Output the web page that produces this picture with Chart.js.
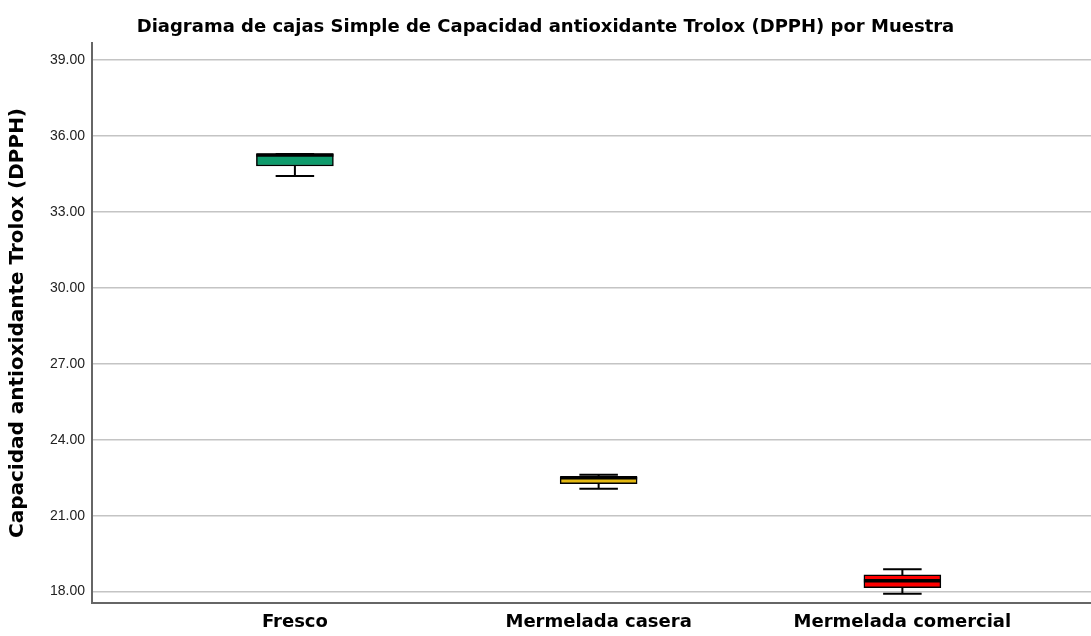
<!DOCTYPE html>
<html>
<head>
    <title>Diagrama de cajas</title>
    <script src="https://cdn.jsdelivr.net/npm/chart.js"></script>
    <style>
        body { margin: 0; background: #fff; }
        canvas { display: block; }
    </style>
</head>
<body>
<canvas id="boxChart" width="1091" height="636"></canvas>

<script>
    const categories = ['Fresco', 'Mermelada casera', 'Mermelada comercial'];
    const whiskerLow = [34.42, 22.06, 17.92];
    const q1 = [34.81, 22.26, 18.16];
    const medians = [35.25, 22.50, 18.43];
    const q3 = [35.29, 22.52, 18.66];
    const whiskerHigh = [35.29, 22.62, 18.88];
    const boxColors = ['#0f9b6c', '#e3b812', '#ff0000'];
    const yTicks = [18, 21, 24, 27, 30, 33, 36, 39];

    // whiskers, caps and median lines drawn on top of the floating bars
    const boxPlugin = {
        id: 'boxParts',
        afterDatasetsDraw(chart) {
            const ctx = chart.ctx;
            const y = chart.scales.y;
            const meta = chart.getDatasetMeta(0);
            ctx.save();
            ctx.strokeStyle = '#000';
            meta.data.forEach((bar, i) => {
                const cx = bar.x;
                const half = bar.width / 2;
                const cap = half / 2;
                const yHi = y.getPixelForValue(whiskerHigh[i]);
                const yLo = y.getPixelForValue(whiskerLow[i]);
                ctx.lineWidth = 2;
                ctx.beginPath();
                ctx.moveTo(cx, y.getPixelForValue(q3[i]));
                ctx.lineTo(cx, yHi);
                ctx.moveTo(cx, y.getPixelForValue(q1[i]));
                ctx.lineTo(cx, yLo);
                ctx.moveTo(cx - cap, yHi);
                ctx.lineTo(cx + cap, yHi);
                ctx.moveTo(cx - cap, yLo);
                ctx.lineTo(cx + cap, yLo);
                ctx.stroke();

                ctx.lineWidth = 3.5;
                ctx.beginPath();
                const ym = y.getPixelForValue(medians[i]);
                ctx.moveTo(cx - half, ym);
                ctx.lineTo(cx + half, ym);
                ctx.stroke();
            });
            ctx.restore();
        }
    };

    const ctx = document.getElementById('boxChart').getContext('2d');

    new Chart(ctx, {
        type: 'bar',
        data: {
            datasets: [{
                label: 'Capacidad antioxidante Trolox (DPPH)',
                data: categories.map((c, i) => ({ x: i, y: [q1[i], q3[i]] })),
                backgroundColor: boxColors,
                borderColor: '#000',
                borderWidth: 1.5,
                borderSkipped: false,
                barThickness: 77
            }]
        },
        options: {
            responsive: false,
            animation: false,
            layout: { padding: { left: 0, right: 0, top: 0, bottom: 0 } },
            plugins: {
                legend: { display: false },
                tooltip: { enabled: false },
                title: {
                    display: true,
                    text: 'Diagrama de cajas Simple de Capacidad antioxidante Trolox (DPPH) por Muestra',
                    color: '#000',
                    font: { family: 'DejaVu Sans', size: 18, weight: 'bold' },
                    padding: { top: 17, bottom: 4.4 }
                }
            },
            scales: {
                x: {
                    type: 'linear',
                    offset: false,
                    min: -0.668,
                    max: 2.621,
                    grid: { display: false, drawTicks: false, offset: false },
                    border: { display: true, color: '#666', width: 2 },
                    afterBuildTicks: (scale) => {
                        scale.ticks = categories.map((c, i) => ({ value: i }));
                    },
                    afterFit: (scale) => { scale.height = 33; },
                    ticks: {
                        autoSkip: false,
                        maxRotation: 0,
                        padding: 9,
                        color: '#000',
                        font: { family: 'DejaVu Sans', size: 18, weight: 'bold' },
                        callback: (v) => categories[v]
                    }
                },
                y: {
                    min: 17.55,
                    max: 39.67,
                    afterBuildTicks: (scale) => {
                        scale.ticks = yTicks.map(v => ({ value: v }));
                    },
                    afterFit: (scale) => { scale.width = 92; },
                    grid: { color: '#c4c4c4', lineWidth: 1.5, drawTicks: false },
                    border: { display: true, color: '#666', width: 2 },
                    ticks: {
                        padding: 7,
                        color: '#222',
                        font: { family: 'Liberation Sans', size: 14 },
                        callback: (v) => v.toFixed(2)
                    },
                    title: {
                        display: true,
                        text: 'Capacidad antioxidante Trolox (DPPH)',
                        color: '#000',
                        font: { family: 'DejaVu Sans', size: 20, weight: 'bold' },
                        padding: { top: 6, bottom: 0 }
                    }
                }
            }
        },
        plugins: [boxPlugin]
    });
</script>
</body>
</html>
